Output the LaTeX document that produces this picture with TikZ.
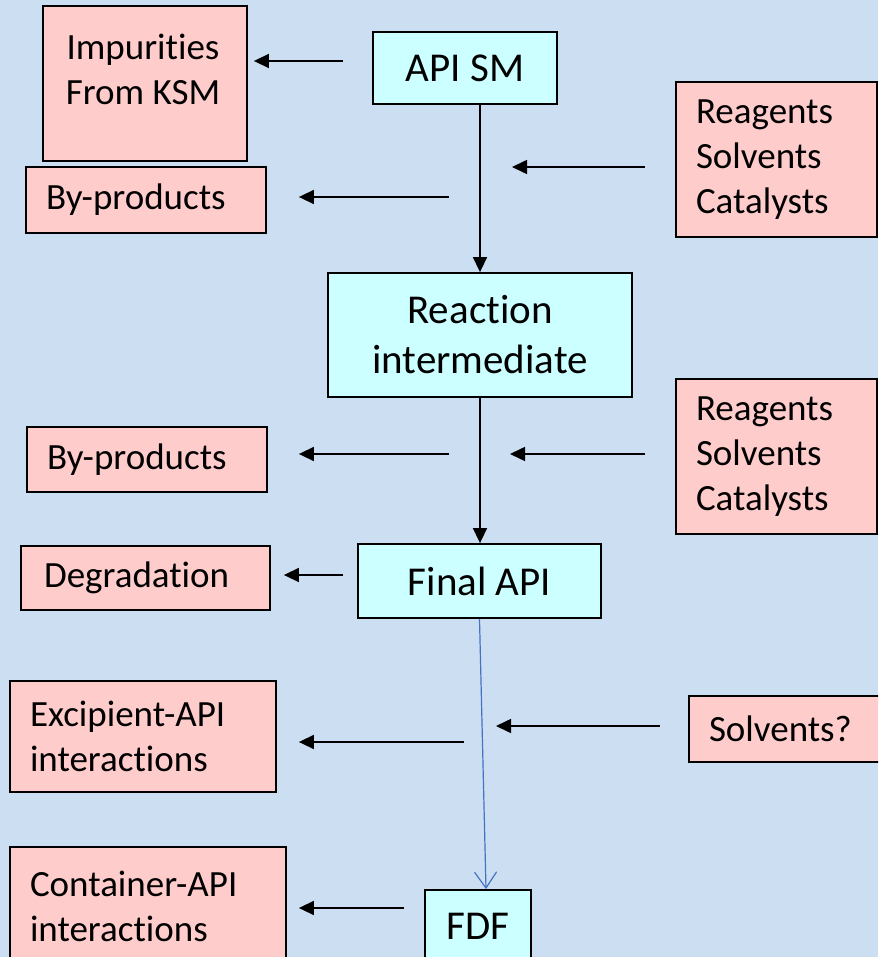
\documentclass[tikz,border=0pt]{standalone}
\usepackage{fontspec}
\setmainfont{Carlito}[Ligatures={NoCommon}]
\usetikzlibrary{arrows.meta}
\definecolor{bgblue}{RGB}{204,222,242}
\definecolor{pinkfill}{RGB}{255,204,204}
\definecolor{cyanfill}{RGB}{204,255,255}
\definecolor{bluearrow}{RGB}{68,114,196}
\tikzset{
  pinkbox/.style={draw=black, line width=1.8pt, fill=pinkfill, inner xsep=20pt, inner ysep=0pt, align=left, font=\fontsize{37}{45}\selectfont},
  cyanbox/.style={draw=black, line width=1.8pt, fill=cyanfill, inner sep=0pt, align=center, font=\fontsize{41}{50}\selectfont},
  sarr/.style={draw=black, line width=1.6pt, -{Triangle[length=15pt,width=14pt]}},
  barr/.style={draw=bluearrow, line width=1.2pt, -{Straight Barb[length=16pt,width=22pt,line width=1.2pt]}},
}
\begin{document}
\begin{tikzpicture}[x=1pt,y=-1pt]
\useasboundingbox (0,0) rectangle (878,957);
\clip (0,0) rectangle (878,957);
\fill[bgblue] (0,0) rectangle (878,957);

% pink boxes
\node[pinkbox, minimum width=204pt, minimum height=155pt, inner xsep=0pt] (imp) at (145,83.5) {};
\node[font=\fontsize{37}{45}\selectfont, align=center, inner sep=0pt] (imptxt) at (143,69) {Impurities\\From KSM};
\node[pinkbox, text width=200pt, minimum height=66pt] (byp1) at (146,200) {By-products};
\node[pinkbox, text width=161pt, minimum height=155pt] (rea1) at (776.5,159.5) {Reagents\\Solvents\\Catalysts};
\node[pinkbox, text width=200pt, minimum height=65pt] (byp2) at (147,459.5) {By-products};
\node[pinkbox, text width=161pt, minimum height=155pt] (rea2) at (776.5,456.5) {Reagents\\Solvents\\Catalysts};
\node[pinkbox, text width=203pt, minimum height=64pt, inner xsep=23pt] (deg) at (145.5,578) {Degradation};
\node[pinkbox, text width=226pt, minimum height=111pt] (exc) at (143,736.5) {Excipient-API\\interactions};
\node[pinkbox, text width=171pt, minimum height=66pt] (solv) at (794.5,729) {Solvents?};
\node[pinkbox, text width=236pt, minimum height=118pt] (cont) at (148,906) {Container-API\\interactions};

% cyan boxes
\node[cyanbox, minimum width=184pt, minimum height=72pt] (apism) at (465,68) {API SM};
\node[cyanbox, minimum width=304pt, minimum height=124pt] (reac) at (480,335) {Reaction\\intermediate};
\node[cyanbox, minimum width=243pt, minimum height=74pt] (final) at (479.5,581) {Final API};
\node[cyanbox, minimum width=106pt, minimum height=72pt] (fdf) at (478,926) {FDF};

% main flow
\draw[sarr] (reac.north |- apism.south) -- (reac.north);
\draw[sarr] (reac.south) -- (reac.south |- final.north);
\draw[barr] (final.south) -- ([xshift=8pt]fdf.north);

% side arrows
\coordinate (s1) at (343,61);
\draw[sarr, shorten >=6pt] (s1) -- (s1 -| imp.east);
\coordinate (s2) at (449,197);
\draw[sarr, shorten >=32pt] (s2) -- (s2 -| byp1.east);
\coordinate (e3) at (512,167);
\draw[sarr, shorten <=30pt] (rea1.west |- e3) -- (e3);
\coordinate (s5) at (449,454);
\draw[sarr, shorten >=31pt] (s5) -- (s5 -| byp2.east);
\coordinate (e6) at (510,454);
\draw[sarr, shorten <=30pt] (rea2.west |- e6) -- (e6);
\coordinate (c8) at (343,575);
\draw[sarr, shorten >=13pt] (c8) -- (c8 -| deg.east);
\coordinate (e10) at (496,726);
\draw[sarr, shorten <=28pt] (solv.west |- e10) -- (e10);
\coordinate (s11) at (464,742);
\draw[sarr, shorten >=22pt] (s11) -- (s11 -| exc.east);
\coordinate (c12) at (404,908);
\draw[sarr, shorten >=12pt] (c12) -- (c12 -| cont.east);
\end{tikzpicture}
\end{document}
